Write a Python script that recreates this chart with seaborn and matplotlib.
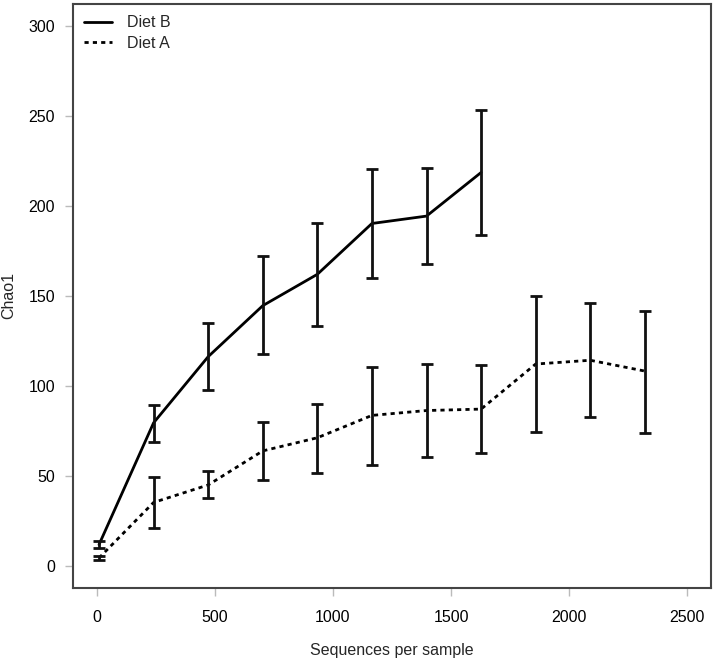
import matplotlib
matplotlib.use("Agg")
import matplotlib.pyplot as plt
import seaborn as sns
import pandas as pd
import numpy as np

depth_b = [10, 241, 472, 703, 934, 1165, 1396, 1627]
mean_b = [12, 79.6, 116.3, 144.6, 162, 190.2, 194.3, 218.5]
lo_b = [10, 68.9, 97.6, 117.8, 133.3, 159.8, 167.8, 183.9]
hi_b = [14, 89.6, 135, 172, 190.7, 220.7, 220.9, 253.3]

depth_a = [10, 241, 472, 703, 934, 1165, 1396, 1627, 1858, 2089, 2320]
mean_a = [4.6, 35.4, 45.1, 64, 71.3, 83.7, 86.4, 87.2, 112.2, 114.3, 108.3]
lo_a = [3.3, 21.3, 37.6, 48, 52, 56.3, 60.4, 62.7, 74.3, 82.6, 74.1]
hi_a = [5.9, 49.3, 52.7, 79.8, 90.3, 110.7, 112.4, 111.6, 150.2, 146.3, 141.7]

x_ticks = [0, 500, 1000, 1500, 2000, 2500]
y_ticks = [0, 50, 100, 150, 200, 250, 300]

sns.set_style("white")
plt.rcParams['font.family'] = ['Liberation Sans', 'DejaVu Sans']

df_b = pd.DataFrame({"depth": depth_b, "chao1": mean_b})
df_a = pd.DataFrame({"depth": depth_a, "chao1": mean_a})

fig = plt.figure(figsize=(7.16, 6.65), dpi=100)
ax = fig.add_axes([0.102, 0.116, 0.891, 0.878])

sns.lineplot(data=df_b, x="depth", y="chao1", ax=ax, color="black", lw=2,
             label="Diet B")
sns.lineplot(data=df_a, x="depth", y="chao1", ax=ax, color="black", lw=2,
             linestyle=(0, (1.5, 1.5)), label="Diet A")

mb = np.array(mean_b); ma = np.array(mean_a)
ax.errorbar(depth_b, mean_b, yerr=[mb - np.array(lo_b), np.array(hi_b) - mb],
            fmt="none", ecolor="#111111", elinewidth=2, capsize=4.5, capthick=2)
ax.errorbar(depth_a, mean_a, yerr=[ma - np.array(lo_a), np.array(hi_a) - ma],
            fmt="none", ecolor="#111111", elinewidth=2, capsize=4.5, capthick=2)

ax.set_xlim(-100, 2600)
ax.set_ylim(-12, 312)
ax.set_xticks(x_ticks)
ax.set_yticks(y_ticks)
ax.tick_params(axis="both", bottom=True, left=True, direction="out", length=6,
               width=1, color="#bbbbbb", labelsize=11.5, labelcolor="black")
ax.tick_params(axis="x", pad=10)
ax.tick_params(axis="y", pad=7)
for s in ax.spines.values():
    s.set_color("#444444")
    s.set_linewidth(1.5)
    s.set_visible(True)

ax.set_xlabel("Sequences per sample", fontsize=11.5, labelpad=13)
ax.set_ylabel("Chao1", fontsize=11.5, labelpad=9)

leg = ax.legend(loc="upper left", frameon=False, fontsize=11.5,
                handlelength=1.75, handletextpad=0.9, borderaxespad=0.4,
                borderpad=0.3, labelspacing=0.35)

fig.savefig("out.png", dpi=100)
